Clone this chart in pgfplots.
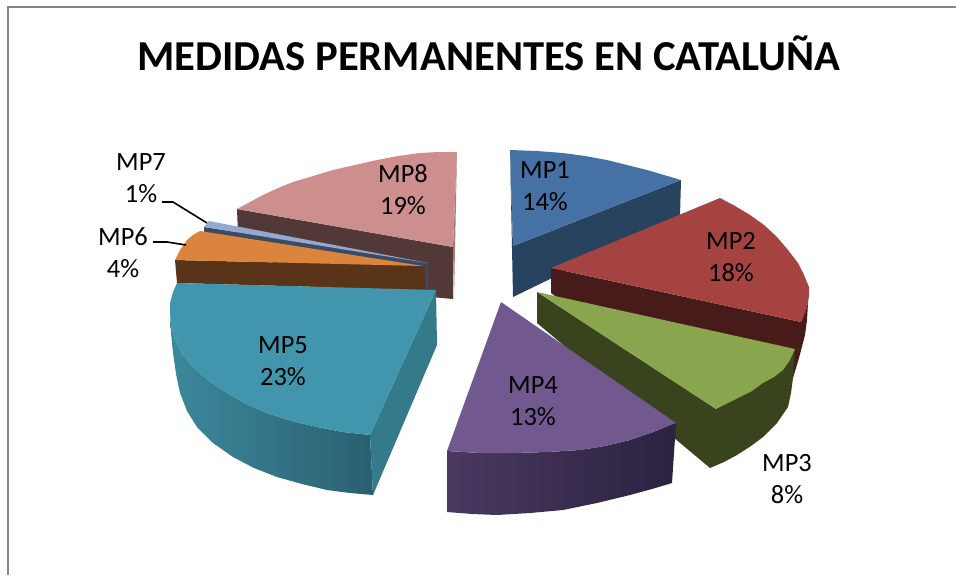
\documentclass[border=0pt]{standalone}
\usepackage{fontspec}
\setmainfont{Carlito}
\usepackage{pgfplots}
\pgfplotsset{compat=1.18}
\definecolor{framecol}{HTML}{868686}
\definecolor{pA}{RGB}{83,56,56}
\definecolor{pB}{RGB}{168,122,120}
\definecolor{pC}{RGB}{205,143,141}
\definecolor{sA}{RGB}{61,74,99}
\definecolor{sB}{RGB}{147,169,207}
\definecolor{oA}{RGB}{90,52,24}
\definecolor{oB}{RGB}{219,132,61}
\definecolor{tL}{RGB}{60,136,156}
\definecolor{tR}{RGB}{42,96,113}
\definecolor{tF}{RGB}{53,122,138}
\definecolor{tT}{RGB}{65,149,172}
\definecolor{bA}{RGB}{40,67,96}
\definecolor{bB}{RGB}{70,113,165}
\definecolor{rA}{RGB}{71,27,25}
\definecolor{rB}{RGB}{165,67,64}
\definecolor{gA}{RGB}{57,67,29}
\definecolor{gB}{RGB}{137,165,78}
\definecolor{vL}{RGB}{74,57,96}
\definecolor{vR}{RGB}{43,34,64}
\definecolor{vT}{RGB}{113,88,143}
\newcommand{\lab}[3]{\node[align=center,inner sep=0pt,font=\fontsize{19.8pt}{24pt}\selectfont] at (axis cs:#1,#2) {#3};}
\begin{document}
\begin{tikzpicture}
\path[use as bounding box] (0,0) rectangle (717pt,431.25pt);
\begin{axis}[
  at={(0,0)}, anchor=south west,
  scale only axis, width=717pt, height=431.25pt,
  xmin=0, xmax=956, ymin=0, ymax=575, y dir=reverse,
  hide axis, clip=false,
]
% frame
\addplot[framecol,line width=1.4pt] coordinates {(8,575)(8,7)(956,7)};
% MP8
\addplot[draw=none,fill=pA] coordinates {(237,209)(453,247)(453,299)(300,285)(238,235)} -- cycle;
\addplot[draw=none,fill=pB] coordinates {(457,152)(454,299)(453,247)} -- cycle;
\addplot[draw=none,fill=pC] coordinates {(457,152)(438,152)(420,153)(398,156)(377,160)(355,165)(333,170)(313,176)(293,182)(278,188)(263,195)(250,202)(237,209)(453,247)} -- cycle;
% MP7
\addplot[draw=none,fill=sA] coordinates {(204,227)(428,262)(428,291)(425,291)(425,270)(204,233)} -- cycle;
\addplot[draw=none,fill=sB] coordinates {(209,221)(204,227)(428,263)} -- cycle;
% MP6
\addplot[draw=none,fill=oA] coordinates {(175,260)(177,283)(426,290)(425,266)} -- cycle;
\addplot[draw=none,fill=oB] coordinates {(423,266)(200,231)(193,235)(187,240)(180,250)(175,260)} -- cycle;
% MP5
\addplot[draw=none,left color=tL,right color=tR] coordinates {(170,313)(171,333)(173,353)(176,374)(180,393)(187,411)(197,427)(213,443)(233,457)(254,468)(277,477)(302,484)(327,490)(350,493)(373,495)(370,435)(343,432)(317,427)(292,421)(267,413)(246,404)(227,393)(209,381)(193,367)(183,355)(175,340)(171,325)} -- cycle;
\addplot[draw=none,fill=tF] coordinates {(370,435)(436,290)(437,345)(373,495)} -- cycle;
\addplot[draw=none,fill=tT] coordinates {(436,290)(177,283)(173,292)(170,303)(170,313)(171,325)(175,340)(183,355)(193,367)(209,381)(227,393)(246,404)(267,413)(292,421)(317,427)(343,432)(370,435)} -- cycle;
% MP1
\addplot[draw=none,fill=bA] coordinates {(510,150)(513,297)(680,216)(681,180)(513,246)} -- cycle;
\addplot[draw=none,fill=bB] coordinates {(510,150)(537,151)(563,153)(585,156)(607,160)(627,165)(647,170)(664,175)(681,180)(513,246)} -- cycle;
% MP2
\addplot[draw=none,fill=rA] coordinates {(551,268)(551,293)(600,330)(790,370)(793,378)(799,358)(805,335)(807,320)(808,303)(801,322)} -- cycle;
\addplot[draw=none,fill=rB] coordinates {(551,268)(720,198)(735,206)(750,215)(764,225)(777,237)(788,250)(798,263)(804,275)(809,287)(809,295)(808,303)(805,313)(801,322)} -- cycle;
% MP3
\addplot[draw=none,fill=gA] coordinates {(537,292)(537,323)(710,468)(724,462)(737,455)(751,446)(763,437)(777,423)(788,407)(791,393)(793,378)(795,349)(716,409)} -- cycle;
\addplot[draw=none,fill=gB] coordinates {(537,292)(795,349)(790,360)(783,370)(774,377)(763,383)(752,391)(740,397)(728,403)(716,409)} -- cycle;
% MP4
\addplot[draw=none,left color=vL,right color=vR] coordinates {(447,451)(447,512)(472,514)(497,515)(530,513)(563,510)(597,503)(630,495)(652,489)(672,483)(676,423)(653,432)(630,440)(605,446)(580,450)(547,452)(513,453)(480,453)} -- cycle;
\addplot[draw=none,fill=vT] coordinates {(501,302)(676,423)(653,432)(630,440)(605,446)(580,450)(547,452)(513,453)(480,453)(447,451)} -- cycle;
% leader lines
\addplot[black,line width=1.2pt] coordinates {(162,202)(173,202)(207,223)};
\addplot[black,line width=1.2pt] coordinates {(153,242)(167,242)(186,245)};
% texts
\node[font=\fontsize{32pt}{36pt}\bfseries\selectfont,inner sep=0pt] at (axis cs:489,53) {MEDIDAS PERMANENTES EN CATALUÑA};
\lab{545}{186}{MP1\\14\%}
\lab{731}{257}{MP2\\18\%}
\lab{787}{479}{MP3\\8\%}
\lab{533}{401}{MP4\\13\%}
\lab{283}{361}{MP5\\23\%}
\lab{123}{253}{MP6\\4\%}
\lab{141}{178}{MP7\\1\%}
\lab{403}{190}{MP8\\19\%}
\end{axis}
\end{tikzpicture}
\end{document}
